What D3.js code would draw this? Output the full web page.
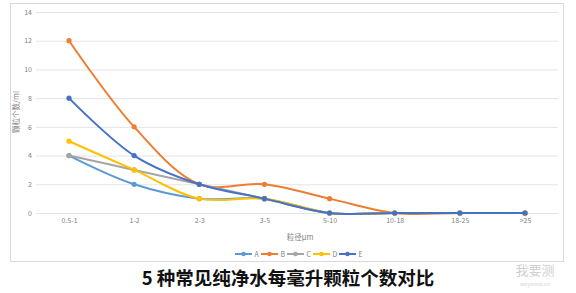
<!DOCTYPE html>
<html><head><meta charset="utf-8">
<script src="https://cdn.jsdelivr.net/npm/d3@7"></script>
<style>body{margin:0;background:#fff}svg{display:block}</style>
</head><body>
<svg id="c" width="576" height="293"></svg>
<script>
const categories = ["0.5-1","1-2","2-3","3-5","5-10","10-18","18-25",">25"];
const seriesNames = ["A","B","C","D","E"];
const seriesColors = ["#5B9BD5","#ED7D31","#A5A5A5","#FFC000","#4472C4"];
const valuesA = [4,2,1,1,0,0,0,0];
const valuesB = [12,6,2,2,1,0,0,0];
const valuesC = [4,3,2,1,0,0,0,0];
const valuesD = [5,3,1,1,0,0,0,0];
const valuesE = [8,4,2,1,0,0,0,0];
const yTicks = [0,2,4,6,8,10,12,14];
const title = "5 种常见纯净水每毫升颗粒个数对比";
const xTitle = "粒径μm";
const yTitle = "颗粒个数/ml";

const allValues = [valuesA,valuesB,valuesC,valuesD,valuesE];
const svg = d3.select("#c");
const font = "'Noto Sans CJK SC','Noto Sans',sans-serif";

svg.append("rect").attr("x",10.5).attr("y",3.5).attr("width",553).attr("height",258)
  .attr("fill","#fff").attr("stroke","#d9d9d9");

const x = d3.scalePoint().domain(categories).range([69,525]);
const y = d3.scaleLinear().domain([0,14]).range([213,12]);

svg.append("g").selectAll("line").data(yTicks).join("line")
  .attr("x1",36).attr("x2",558).attr("y1",d=>y(d)+0.5).attr("y2",d=>y(d)+0.5)
  .attr("stroke","#e4e4e4").attr("stroke-width",1);

const yAxis = d3.axisLeft(y).tickValues(yTicks).tickSize(0).tickPadding(0);
const gy = svg.append("g").attr("transform","translate(32,0)").call(yAxis);
gy.select(".domain").remove();
gy.selectAll("text").attr("fill","#7f7f7f").style("font-size","7px").style("font-family",font);

const xAxis = d3.axisBottom(x).tickSize(0).tickPadding(0);
const gx = svg.append("g").attr("transform","translate(0,218)").call(xAxis);
gx.select(".domain").remove();
gx.selectAll("text").attr("fill","#7f7f7f").style("font-size","7px").style("font-family",font);

svg.append("text").attr("x",300).attr("y",240).attr("text-anchor","middle")
  .attr("fill","#7f7f7f").style("font-size","7.5px").style("font-family",font).text(xTitle);
svg.append("text").attr("transform","translate(19,112) rotate(-90)").attr("text-anchor","middle")
  .attr("fill","#7f7f7f").style("font-size","7.5px").style("font-family",font).text(yTitle);

const line = d3.line().x((d,i)=>x(categories[i])).y(d=>y(d)).curve(d3.curveCatmullRom.alpha(0.5));
allValues.forEach((vals,k)=>{
  const g = svg.append("g");
  g.append("path").attr("d",line(vals)).attr("fill","none")
    .attr("stroke",seriesColors[k]).attr("stroke-width",2);
  g.selectAll("circle").data(vals).join("circle")
    .attr("cx",(d,i)=>x(categories[i])).attr("cy",d=>y(d)).attr("r",2.6)
    .attr("fill",seriesColors[k]);
});

const lg = svg.append("g").attr("transform","translate(235,254)");
seriesNames.forEach((n,k)=>{
  const gi = lg.append("g").attr("transform",`translate(${k*26},0)`);
  gi.append("line").attr("x1",0).attr("x2",17).attr("y1",0).attr("y2",0)
    .attr("stroke",seriesColors[k]).attr("stroke-width",2);
  gi.append("circle").attr("cx",8.5).attr("cy",0).attr("r",2.3).attr("fill",seriesColors[k]);
  gi.append("text").attr("x",19.5).attr("y",2.5).attr("fill","#7f7f7f")
    .style("font-size","7px").style("font-family",font).text(n);
});

svg.append("text").attr("x",288).attr("y",285).attr("text-anchor","middle")
  .attr("fill","#111").style("font-size","18.5px").style("font-weight","bold")
  .style("font-family",font).text(title);

svg.append("text").attr("x",535).attr("y",275).attr("text-anchor","middle")
  .attr("fill","#d0d0d0").style("font-size","13px").style("font-family",font).text("我要测");
svg.append("text").attr("x",535).attr("y",286).attr("text-anchor","middle")
  .attr("fill","#d4d4d4").style("font-size","5.5px").style("font-family",font).text("woyaoce.cn");
</script>
</body></html>
